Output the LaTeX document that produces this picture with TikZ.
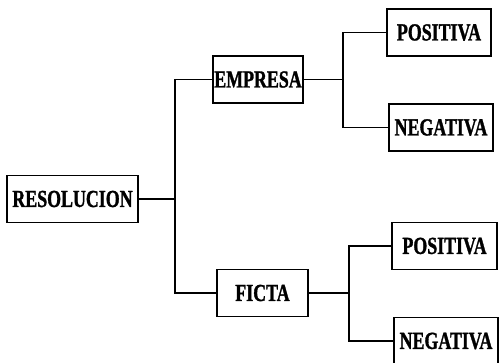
\documentclass[tikz,border=0pt]{standalone}
\usepackage{fontspec}
\setmainfont{Liberation Serif}[FakeStretch=0.73,FakeBold=1.2]
\begin{document}
\begin{tikzpicture}[x=1pt,y=-1pt,
  box/.style={draw,line width=1.6pt,inner sep=0pt,minimum height=47pt,font=\bfseries\fontsize{24.5}{26}\selectfont},
  conn/.style={line width=1.9pt}]
\useasboundingbox (0,0) rectangle (499,363);
\clip (0,0) rectangle (499,363);
\node[box,minimum width=131pt] (res) at (72.5,199) {RESOLUCION};
\node[box,minimum width=90pt] (emp) at (258,79.5) {EMPRESA};
\node[box,minimum width=91pt] (fic) at (262.5,293) {FICTA};
\node[box,minimum width=104pt] (pos1) at (439,32.5) {POSITIVA};
\node[box,minimum width=104pt] (neg1) at (441,127.5) {NEGATIVA};
\node[box,minimum width=105pt] (pos2) at (444.5,246) {POSITIVA};
\node[box,minimum width=104pt] (neg2) at (446,341) {NEGATIVA};
\coordinate (j1) at (175,199);
\coordinate (j2) at (343,79.5);
\coordinate (j3) at (349,293);
\draw[conn] (res.east) -- (j1);
\draw[conn] (emp.west) -| (j1) |- (fic.west);
\draw[conn] (emp.east) -- (j2);
\draw[conn] (pos1.west) -| (j2) |- (neg1.west);
\draw[conn] (fic.east) -- (j3);
\draw[conn] (pos2.west) -| (j3) |- (neg2.west);
\end{tikzpicture}
\end{document}
